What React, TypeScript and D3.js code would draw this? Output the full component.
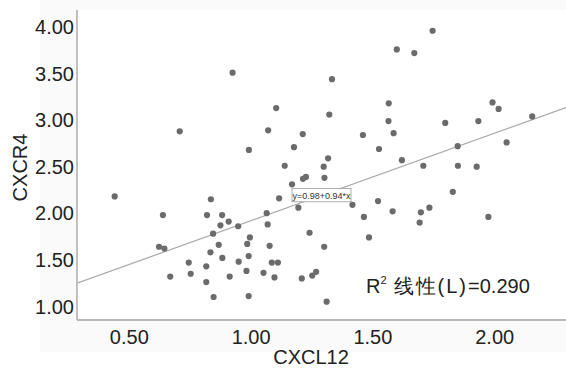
import React from "react";
import * as d3 from "d3";

const cxcl12 = [
  0.44, 0.835, 0.638, 0.819, 0.881, 0.908, 0.874, 0.947, 0.844, 0.622,
  0.644, 0.867, 0.833, 0.882, 0.744, 0.816, 0.949, 0.668, 0.752, 0.912,
  0.816, 0.846, 0.991, 1.316, 1.138, 1.298, 1.225, 1.213, 1.301, 1.168,
  1.619, 1.115, 1.521, 1.416, 1.194, 1.581, 1.064, 1.463, 1.068, 1.24,
  1.484, 0.995, 0.984, 1.076, 1.3, 0.99, 1.085, 1.11, 0.981, 1.051,
  1.096, 1.208, 1.251, 1.267, 0.99, 1.31, 1.991, 2.016, 1.797, 1.933,
  2.154, 1.848, 2.049, 1.707, 1.849, 1.926, 1.828, 1.697, 1.732, 1.692,
  1.974, 1.598, 1.332, 1.103, 1.565, 1.321, 1.564, 1.07, 1.212, 1.459,
  1.585, 1.176, 1.525, 1.745, 1.67, 0.924, 0.707,
];
const cxcr4 = [
  2.18, 2.15, 1.98, 1.98, 1.98, 1.91, 1.87, 1.86, 1.78, 1.64,
  1.62, 1.66, 1.58, 1.52, 1.47, 1.43, 1.48, 1.32, 1.35, 1.32,
  1.26, 1.1, 2.68, 2.59, 2.51, 2.5, 2.39, 2.37, 2.38, 2.31,
  2.57, 2.16, 2.13, 2.09, 2.06, 2.02, 2.0, 1.96, 1.88, 1.79,
  1.74, 1.74, 1.67, 1.65, 1.64, 1.54, 1.47, 1.47, 1.38, 1.36,
  1.31, 1.3, 1.33, 1.37, 1.11, 1.05, 3.19, 3.12, 2.97, 2.99,
  3.04, 2.72, 2.76, 2.51, 2.51, 2.5, 2.23, 2.01, 2.06, 1.9,
  1.96, 3.76, 3.44, 3.13, 3.18, 3.06, 2.99, 2.89, 2.85, 2.84,
  2.86, 2.71, 2.69, 3.96, 3.72, 3.51, 2.88,
];
const xTicks = [0.5, 1.0, 1.5, 2.0];
const yTicks = [1.0, 1.5, 2.0, 2.5, 3.0, 3.5, 4.0];
const intercept = 0.98;
const slope = 0.94;
const r2 = 0.29;
const xTitle = "CXCL12";
const yTitle = "CXCR4";

export default function App() {
  const W = 566;
  const H = 368;
  const left = 77;
  const right = 566;
  const top = 10;
  const bottom = 320;
  const x = d3.scaleLinear().domain([0.2853, 2.2927]).range([left, right]);
  const y = d3.scaleLinear().domain([0.853, 4.183]).range([bottom, top]);
  const fmt = d3.format(".2f");
  const [x0, x1] = x.domain();
  const line = d3
    .line<number>()
    .x((d) => x(d))
    .y((d) => y(intercept + slope * d));
  const xm = (x0 + x1) / 2;
  const ym = intercept + slope * xm;
  const font = "'Liberation Sans', Arial, Helvetica, sans-serif";
  const axisColor = "#b9b9b9";
  return (
    <svg
      width={W}
      height={H}
      style={{ position: "absolute", left: 0, top: 0, display: "block" }}
      fontFamily={font}
    >
      <rect x={0} y={0} width={W} height={H} fill="#ffffff" />
      <rect x={40} y={0} width={W - 40} height={352} fill="#fafafa" />
      <rect x={left} y={top} width={right - left} height={bottom - top} fill="#ffffff" />
      <defs>
        <clipPath id="plotclip">
          <rect x={left} y={top} width={right - left} height={bottom - top} />
        </clipPath>
      </defs>
      <g clipPath="url(#plotclip)">
        <path d={line([x0, x1]) || ""} stroke="#a9a9a9" strokeWidth={1.2} fill="none" />
        {cxcl12.map((v, i) => (
          <circle key={i} cx={x(v)} cy={y(cxcr4[i])} r={3.1} fill="#6b6b6b" />
        ))}
      </g>
      <line x1={left} y1={top} x2={left} y2={bottom} stroke={axisColor} strokeWidth={1.8} />
      <line x1={left} y1={bottom} x2={right} y2={bottom} stroke={axisColor} strokeWidth={1.8} />
      {yTicks.map((t) => (
        <text
          key={t}
          x={left - 3}
          y={y(t)}
          dy="0.36em"
          textAnchor="end"
          fontSize={20}
          fill="#222"
        >
          {fmt(t)}
        </text>
      ))}
      {xTicks.map((t) => (
        <text key={t} x={x(t)} y={343.5} textAnchor="middle" fontSize={20} fill="#222">
          {fmt(t)}
        </text>
      ))}
      <text x={311} y={364} textAnchor="middle" fontSize={20} fill="#222">
        {xTitle}
      </text>
      <text
        transform={`translate(27, ${167.5}) rotate(-90)`}
        textAnchor="middle"
        fontSize={20}
        fill="#222"
      >
        {yTitle}
      </text>
      <g transform={`translate(${x(xm)}, ${y(ym)})`}>
        <rect x={-29.5} y={-6.8} width={59} height={13.2} fill="#ffffff" stroke="#9a9a9a" strokeWidth={0.8} />
        <text x={0} y={3.2} textAnchor="middle" fontSize={9} fill="#333">
          {`y=${intercept.toFixed(2)}+${slope.toFixed(2)}*x`}
        </text>
      </g>
      <text x={366} y={292.5} fontSize={20} fill="#222">
        R<tspan fontSize={11} dy={-9}>2</tspan>
        <tspan dy={9} dx={7} letterSpacing={2}>线性(L)</tspan>
        <tspan>{`=${r2.toFixed(3)}`}</tspan>
      </text>
    </svg>
  );
}
